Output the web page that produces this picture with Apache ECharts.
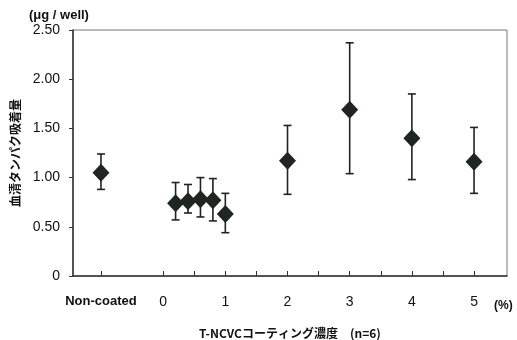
<!DOCTYPE html>
<html><head><meta charset="utf-8">
<script src="https://cdn.jsdelivr.net/npm/echarts@6/dist/echarts.min.js"></script>
<style>html,body{margin:0;padding:0;background:#fff}#c{width:517px;height:340px}</style>
</head><body><div id="c"></div>
<script>
// x positions: -1 = Non-coated, others = concentration (%)
var xPos = [-1, 0.2, 0.4, 0.6, 0.8, 1.0, 2, 3, 4, 5];
var means = [1.05, 0.74, 0.76, 0.78, 0.77, 0.63, 1.17, 1.69, 1.40, 1.16];
var upper = [1.24, 0.95, 0.93, 1.00, 0.99, 0.84, 1.53, 2.37, 1.85, 1.51];
var lower = [0.88, 0.57, 0.64, 0.60, 0.56, 0.44, 0.83, 1.04, 0.98, 0.84];
var xTickValues = [-1, 0, 0.5, 1, 1.5, 2, 2.5, 3, 3.5, 4, 4.5, 5];
var xLabelValues = [-1, 0, 1, 2, 3, 4, 5];

var font = '"Liberation Sans", Arial, sans-serif';
var cjk = '"Noto Sans CJK JP", "Liberation Sans", sans-serif';
var col = '#1f2622';

var pts = xPos.map(function(x, i){ return [x, means[i]]; });
var errs = xPos.map(function(x, i){ return [x, lower[i], upper[i]]; });

var chart = echarts.init(document.getElementById('c'));
chart.setOption({
  animation: false,
  grid: {left: 73, top: 30, right: 10, bottom: 64, show: true, borderColor: '#777', borderWidth: 1},
  title: [
    {text: '(\u03bcg / well)', left: 24, top: 4, textStyle: {fontFamily: font, fontSize: 13, fontWeight: 'bold', color: '#111'}},
    {text: '(%)', left: 489, top: 295, textStyle: {fontFamily: font, fontSize: 12, fontWeight: 'bold', color: '#111'}},
    {text: 'T-NCVCコーティング濃度\u3000(n=6)', left: 194, top: 322, textStyle: {fontFamily: cjk, fontSize: 12, fontWeight: 'bold', color: '#111'}}
  ],
  xAxis: {
    type: 'value', min: -1.45, max: 5.53,
    axisLine: {show: true, onZero: false, lineStyle: {color: '#333', width: 1.5}},
    axisTick: {show: true, inside: true, length: 5, customValues: xTickValues, lineStyle: {color: '#333'}},
    axisLabel: {
      customValues: xLabelValues, margin: 19,
      fontFamily: font, fontSize: 14, color: '#111',
      formatter: function(v){ return v === -1 ? '{b|Non-coated}' : String(v); },
      rich: {b: {fontFamily: font, fontSize: 13, fontWeight: 'bold', color: '#111'}}
    },
    splitLine: {show: false}
  },
  yAxis: {
    type: 'value', min: 0, max: 2.5, interval: 0.5,
    name: '血清タンパク吸着量', nameLocation: 'middle', nameRotate: 90, nameGap: 48,
    nameTextStyle: {fontFamily: cjk, fontSize: 12, fontWeight: 'bold', color: '#111'},
    axisLine: {show: true, onZero: false, lineStyle: {color: '#333', width: 1.5}},
    axisTick: {show: true, length: 4, lineStyle: {color: '#333'}},
    axisLabel: {margin: 13, fontFamily: font, fontSize: 14, color: '#111',
      formatter: function(v){ return v === 0 ? '0' : v.toFixed(2); }},
    splitLine: {show: false}
  },
  series: [
    {
      type: 'custom',
      data: errs,
      renderItem: function(params, api){
        var x = api.value(0);
        var lo = api.coord([x, api.value(1)]);
        var hi = api.coord([x, api.value(2)]);
        var w = 4;
        var st = {stroke: '#222', lineWidth: 1.6};
        return {type: 'group', children: [
          {type: 'line', shape: {x1: lo[0], y1: lo[1], x2: hi[0], y2: hi[1]}, style: st},
          {type: 'line', shape: {x1: hi[0]-w, y1: hi[1], x2: hi[0]+w, y2: hi[1]}, style: st},
          {type: 'line', shape: {x1: lo[0]-w, y1: lo[1], x2: lo[0]+w, y2: lo[1]}, style: st}
        ]};
      },
      z: 2
    },
    {
      type: 'scatter',
      data: pts,
      symbol: 'diamond',
      symbolSize: [17, 18],
      itemStyle: {color: col, opacity: 1},
      z: 3
    }
  ]
});
</script></body></html>
